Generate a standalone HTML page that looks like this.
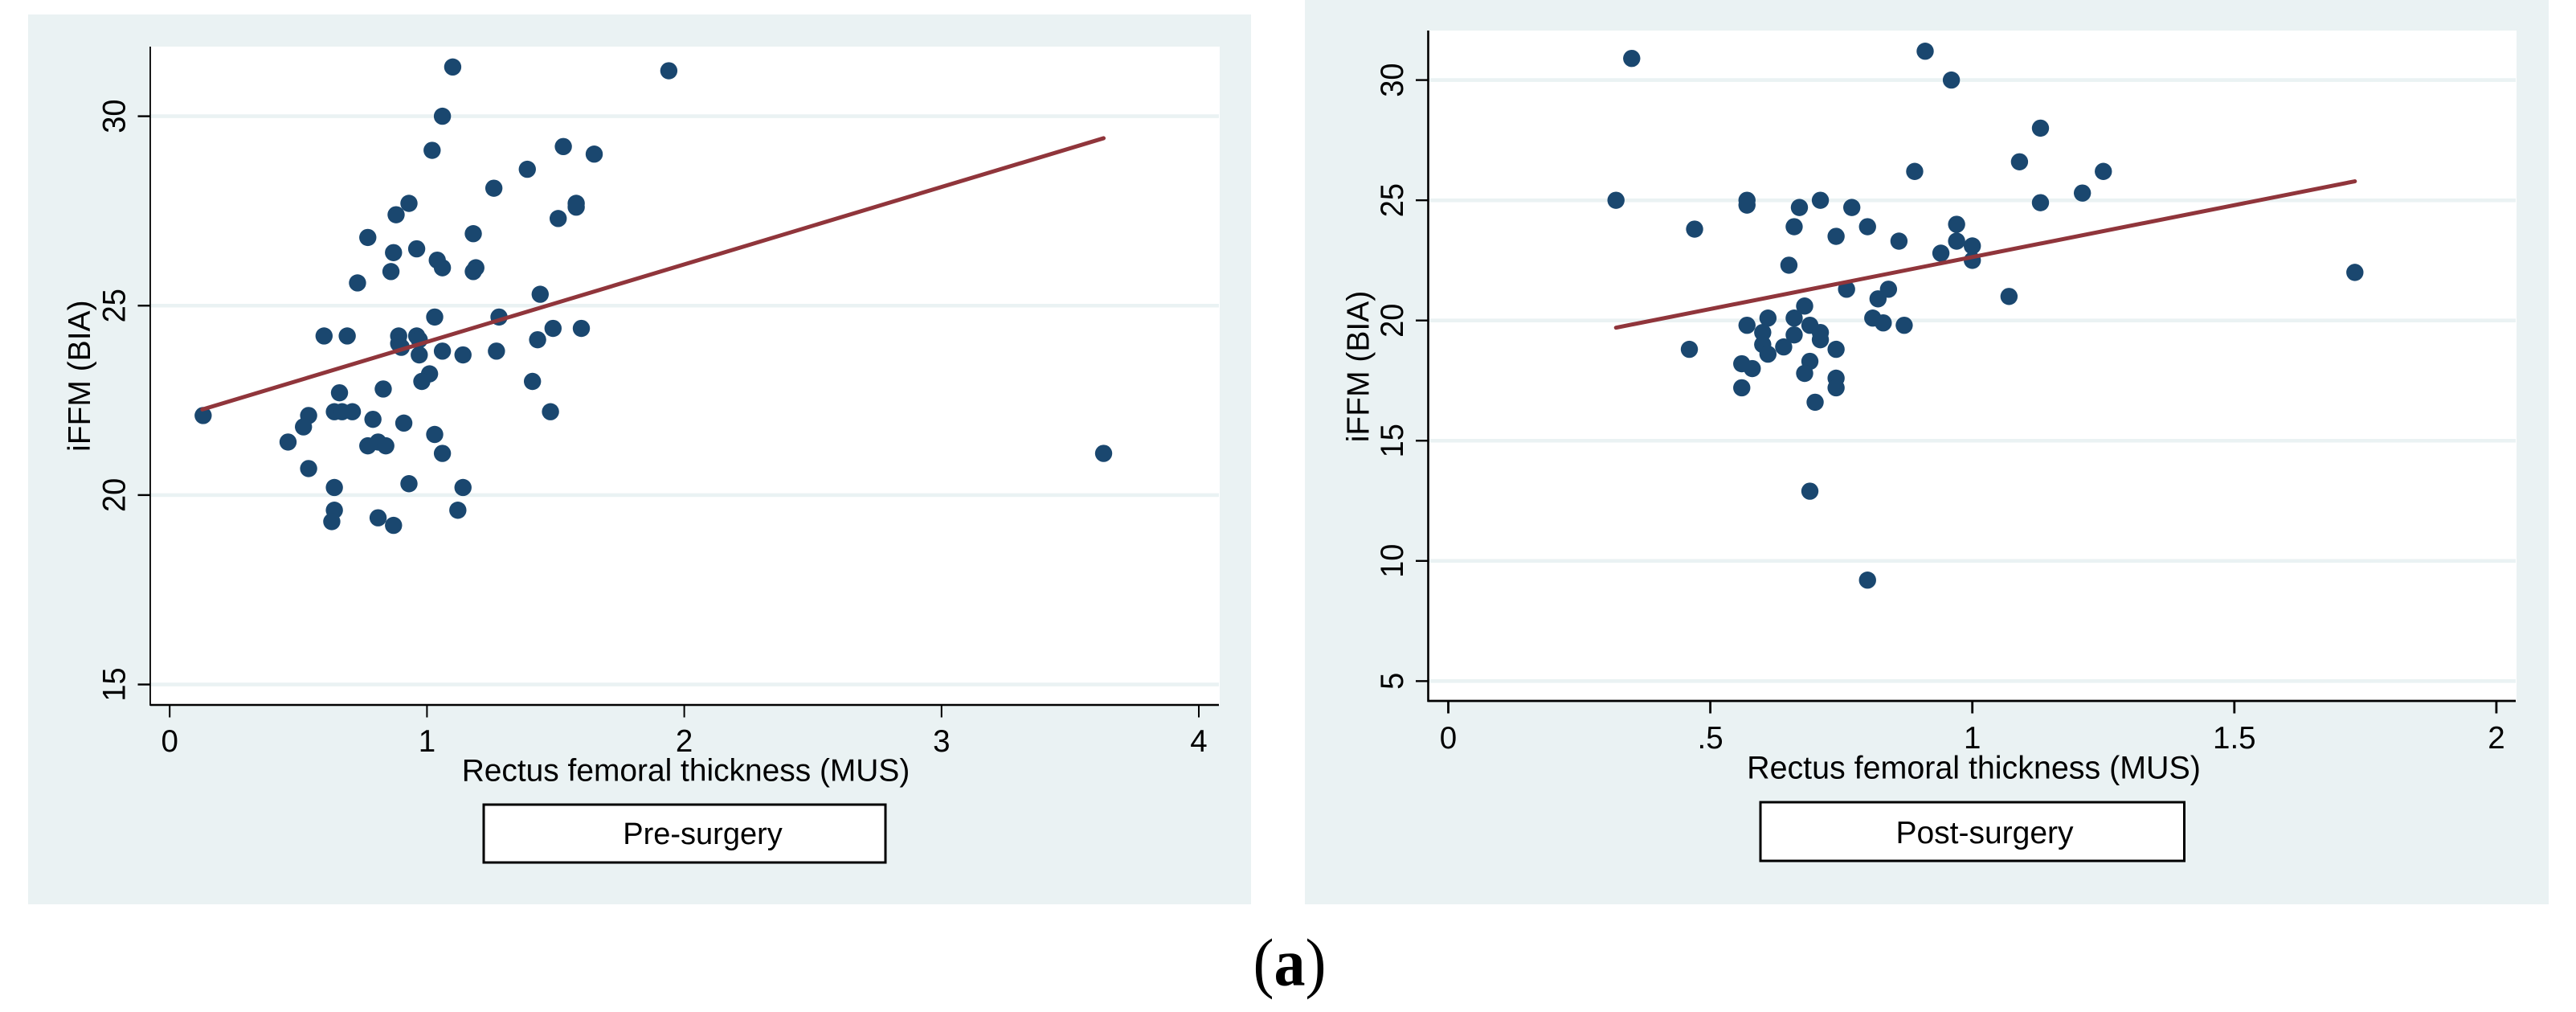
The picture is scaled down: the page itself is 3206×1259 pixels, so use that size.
<!DOCTYPE html>
<html lang="en">
<head>
<meta charset="utf-8">
<title>iFFM versus rectus femoral thickness, pre- and post-surgery</title>
<style>
  html, body { margin: 0; padding: 0; background: #ffffff; }
  svg { display: block; }
  text { font-family: "Liberation Sans", Arial, sans-serif; fill: #000000; }
  .caption { font-family: "Liberation Serif", "Times New Roman", serif; }
</style>
</head>
<body>
<svg id="figure" xmlns="http://www.w3.org/2000/svg" width="3206" height="1259" viewBox="0 0 3206 1259">
  <rect x="0" y="0" width="3206" height="1259" fill="#ffffff"/>

  <g id="pre-panel">
    <rect x="35" y="18" width="1522" height="1107" fill="#eaf2f3"/>
    <rect x="187" y="58" width="1331" height="819" fill="#ffffff"/>
  </g>
  <g id="post-panel">
    <rect x="1624" y="0" width="1548" height="1125" fill="#eaf2f3"/>
    <rect x="1777" y="38" width="1355" height="834" fill="#ffffff"/>
  </g>

  <g id="labels">
    <text x="853.5" y="971.5" font-size="38.9" text-anchor="middle">Rectus femoral thickness (MUS)</text>
    <text transform="translate(112 467.7) rotate(-90)" font-size="39" text-anchor="middle">iFFM (BIA)</text>
    <rect x="602" y="1001" width="500" height="72" fill="#ffffff" stroke="#000000" stroke-width="3"/>
    <text x="874.5" y="1050" font-size="38" text-anchor="middle">Pre-surgery</text>

    <text x="2456.5" y="968.7" font-size="39.4" text-anchor="middle">Rectus femoral thickness (MUS)</text>
    <text transform="translate(1703.6 456) rotate(-90)" font-size="39" text-anchor="middle">iFFM (BIA)</text>
    <rect x="2191" y="998" width="527.5" height="73" fill="#ffffff" stroke="#000000" stroke-width="3"/>
    <text x="2470" y="1049" font-size="39" text-anchor="middle">Post-surgery</text>

    <text class="caption" transform="translate(1605 1225.5) scale(0.93 1)" font-size="84" text-anchor="middle">(<tspan font-weight="bold">a</tspan>)</text>
  </g>
</svg>

<script>
// Pre-surgery panel data
const preXTicks = [0, 1, 2, 3, 4];
const preXTickLabels = ['0', '1', '2', '3', '4'];
const preYTicks = [15, 20, 25, 30];
const preYTickLabels = ['15', '20', '25', '30'];
const preThickness = [1.10, 1.06, 1.02, 1.53, 1.65, 1.39, 1.26, 0.93, 0.88, 1.58, 1.58, 1.51, 1.18, 0.77, 0.87, 0.96, 1.04, 1.06, 1.19, 1.18, 0.86, 0.73, 1.44, 1.03, 1.28, 0.60, 0.69, 0.89, 0.96, 0.97, 0.89, 0.90, 0.97, 1.06, 1.14, 1.27, 1.43, 1.49, 1.60, 1.01, 0.98, 1.41, 0.66, 0.83, 0.54, 0.13, 0.52, 0.64, 0.67, 0.71, 0.79, 1.48, 0.91, 1.03, 0.46, 0.77, 0.81, 0.84, 1.06, 0.54, 0.64, 0.93, 1.14, 0.64, 0.63, 0.81, 0.87, 1.12, 1.94, 3.63];
const preIffm = [31.3, 30.0, 29.1, 29.2, 29.0, 28.6, 28.1, 27.7, 27.4, 27.7, 27.6, 27.3, 26.9, 26.8, 26.4, 26.5, 26.2, 26.0, 26.0, 25.9, 25.9, 25.6, 25.3, 24.7, 24.7, 24.2, 24.2, 24.2, 24.2, 24.1, 24.0, 23.9, 23.7, 23.8, 23.7, 23.8, 24.1, 24.4, 24.4, 23.2, 23.0, 23.0, 22.7, 22.8, 22.1, 22.1, 21.8, 22.2, 22.2, 22.2, 22.0, 22.2, 21.9, 21.6, 21.4, 21.3, 21.4, 21.3, 21.1, 20.7, 20.2, 20.3, 20.2, 19.6, 19.3, 19.4, 19.2, 19.6, 31.2, 21.1];
const preFitX = [0.127, 3.63];
const preFitY = [22.26, 29.42];

// Post-surgery panel data
const postXTicks = [0, 0.5, 1, 1.5, 2];
const postXTickLabels = ['0', '.5', '1', '1.5', '2'];
const postYTicks = [5, 10, 15, 20, 25, 30];
const postYTickLabels = ['5', '10', '15', '20', '25', '30'];
const postThickness = [0.35, 0.91, 0.32, 0.57, 0.57, 0.71, 0.67, 0.77, 0.47, 0.66, 0.80, 0.74, 0.86, 0.89, 0.65, 0.76, 0.84, 0.82, 0.68, 0.61, 0.66, 0.57, 0.69, 0.81, 0.83, 0.87, 0.60, 0.71, 0.71, 0.66, 0.60, 0.64, 0.61, 0.46, 0.74, 0.69, 0.56, 0.58, 0.68, 0.74, 0.74, 0.56, 0.70, 0.69, 0.96, 1.13, 1.09, 1.25, 1.21, 1.13, 0.97, 0.97, 0.94, 1.00, 1.00, 1.07, 1.73, 0.80];
const postIffm = [30.9, 31.2, 25.0, 25.0, 24.8, 25.0, 24.7, 24.7, 23.8, 23.9, 23.9, 23.5, 23.3, 26.2, 22.3, 21.3, 21.3, 20.9, 20.6, 20.1, 20.1, 19.8, 19.8, 20.1, 19.9, 19.8, 19.5, 19.5, 19.2, 19.4, 19.0, 18.9, 18.6, 18.8, 18.8, 18.3, 18.2, 18.0, 17.8, 17.6, 17.2, 17.2, 16.6, 12.9, 30.0, 28.0, 26.6, 26.2, 25.3, 24.9, 24.0, 23.3, 22.8, 23.1, 22.5, 21.0, 22.0, 9.2];
const postFitX = [0.32, 1.73];
const postFitY = [19.7, 25.79];

const SVG_NS = 'http://www.w3.org/2000/svg';

function makeLinearAxis(origin, pxPerUnit, base) {
  return function (value) { return origin + (value - base) * pxPerUnit; };
}

function svgEl(tag, attrs, parent) {
  const el = document.createElementNS(SVG_NS, tag);
  Object.keys(attrs).forEach(function (k) { el.setAttribute(k, attrs[k]); });
  parent.appendChild(el);
  return el;
}

function drawPanel(prefix, g, box, xAxis, yAxis, xTicks, xTickLabels, yTicks, yTickLabels, xs, ys, fitX, fitY) {
  // Grid lines
  yTicks.forEach(function (t) {
    const line = svgEl('line', { x1: box.left, x2: box.gridEnd, y1: yAxis(t), y2: yAxis(t), stroke: '#eaf2f3', 'stroke-width': 4.6 }, g);
    
    
  });

  // Markers
  xs.forEach(function (xv, i) {
    const dot = svgEl('ellipse', { cx: xAxis(xv), cy: yAxis(ys[i]), rx: 10.7, ry: 10.7, fill: '#1a476f' }, g);
    
    
  });

  // Fit line
  const pts = fitX.map(function (xv, i) { return xAxis(xv) + ',' + yAxis(fitY[i]); }).join(' ');
  const fit = svgEl('polyline', { points: pts, fill: 'none', stroke: '#90353b', 'stroke-width': 5, 'stroke-linecap': 'round' }, g);
  
  

  // Axis lines
  const yLine = svgEl('line', { x1: box.left, x2: box.left, y1: box.top, y2: box.bottom + box.axisW / 2, stroke: '#000000', 'stroke-width': box.axisW }, g);
  
  
  const xLine = svgEl('line', { x1: box.left, x2: box.gridEnd, y1: box.bottom, y2: box.bottom, stroke: '#000000', 'stroke-width': box.hAxisW }, g);
  
  

  // X ticks and labels
  xTicks.forEach(function (t, i) {
    const tick = svgEl('line', { x1: xAxis(t), x2: xAxis(t), y1: box.bottom, y2: box.bottom + 15.5, stroke: '#000000', 'stroke-width': box.tickW }, g);
    
    
    const label = svgEl('text', { x: xAxis(t), y: box.xLabelBase, 'font-size': 38.5, 'text-anchor': 'middle' }, g);
    label.textContent = xTickLabels[i];
    
    
  });

  // Y ticks and labels
  yTicks.forEach(function (t, i) {
    const tick = svgEl('line', { x1: box.left - 15.5, x2: box.left, y1: yAxis(t), y2: yAxis(t), stroke: '#000000', 'stroke-width': 2.4 }, g);
    
    
    const label = svgEl('text', { transform: 'translate(' + box.yLabelBase + ' ' + yAxis(t) + ') rotate(-90) scale(1 1.06)', 'font-size': 38, 'text-anchor': 'middle' }, g);
    label.textContent = yTickLabels[i];
    
    
  });
}

drawPanel(
  'pre',
  document.getElementById('pre-panel'),
  { left: 187, top: 58, bottom: 877, gridEnd: 1517, axisW: 1.8, hAxisW: 2.4, tickW: 2, xLabelBase: 935, yLabelBase: 155.6 },
  makeLinearAxis(211.2, 320.2, 0),
  makeLinearAxis(144.6, -47.13, 30),
  preXTicks, preXTickLabels, preYTicks, preYTickLabels,
  preThickness, preIffm, preFitX, preFitY
);

drawPanel(
  'post',
  document.getElementById('post-panel'),
  { left: 1777.5, top: 38, bottom: 872, gridEnd: 3131, axisW: 2.6, hAxisW: 2.8, tickW: 2.8, xLabelBase: 931, yLabelBase: 1746 },
  makeLinearAxis(1802.5, 652.2, 0),
  makeLinearAxis(99.6, -29.91, 30),
  postXTicks, postXTickLabels, postYTicks, postYTickLabels,
  postThickness, postIffm, postFitX, postFitY
);
</script>
</body>
</html>
